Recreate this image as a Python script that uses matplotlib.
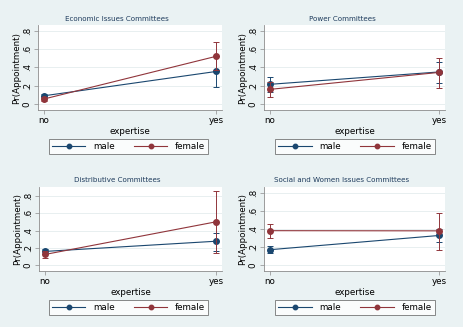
import numpy as np
import matplotlib
matplotlib.use("Agg")
from matplotlib import pyplot as plt

titles = ["Economic Issues Committees", "Power Committees",
          "Distributive Committees", "Social and Women Issues Committees"]
xlabels = ["no", "yes"]

# point estimates [no, yes]
male = [[0.09, 0.355], [0.215, 0.35], [0.16, 0.277], [0.17, 0.327]]
female = [[0.055, 0.52], [0.16, 0.345], [0.125, 0.50], [0.38, 0.378]]
# confidence intervals (low, high) for [no, yes]
male_lo = [[0.07, 0.19], [0.135, 0.23], [0.13, 0.165], [0.135, 0.255]]
male_hi = [[0.11, 0.52], [0.30, 0.46], [0.19, 0.373], [0.21, 0.40]]
female_lo = [[0.035, 0.37], [0.08, 0.18], [0.085, 0.14], [0.30, 0.17]]
female_hi = [[0.075, 0.673], [0.24, 0.505], [0.165, 0.85], [0.45, 0.58]]

navy = "#1a476f"
maroon = "#90353b"
bg = "#eaf2f3"

W, H = 464, 327
fig = plt.figure(figsize=(W / 100, H / 100), dpi=100, facecolor=bg)

# pixel boxes (left, top, right, bottom) for the plot regions
boxes = [(38, 25, 222, 110), (264, 25, 445, 110),
         (39, 187, 222, 271), (264, 187, 445, 271)]
legboxes = [(53, 138, 204, 155), (279, 138, 431, 155),
            (53, 299, 204, 316), (279, 299, 431, 316)]
titlepos = [(117, 19), (342, 19), (117, 180), (342, 180)]
ytops = [0.862, 0.862, 0.90, 0.862]

x = np.array([0, 1])
for i in range(4):
    l, t, r, b = boxes[i]
    ax = fig.add_axes([l / W, 1 - b / H, (r - l) / W, (b - t) / H])
    ax.set_facecolor("white")
    for s in ["top", "right"]:
        ax.spines[s].set_visible(False)
    for s in ["left", "bottom"]:
        ax.spines[s].set_color("#8c8c8c")
        ax.spines[s].set_linewidth(0.6)
    ax.set_yticks([0, 0.2, 0.4, 0.6, 0.8])
    ax.set_yticklabels(["0", ".2", ".4", ".6", ".8"], rotation=90, va="center")
    ax.set_xticks(x)
    ax.set_xticklabels(xlabels)
    ax.grid(axis="y", color="#e4ecee", linewidth=0.6)
    ax.set_axisbelow(True)
    ax.tick_params(labelsize=6.3, length=3, width=0.5, color="#8c8c8c", pad=1.5)
    ax.set_xlim(-0.035, 1.035)
    ax.set_ylim(-0.065, ytops[i])

    for vals, lo, hi, c, lab in [(male[i], male_lo[i], male_hi[i], navy, "male"),
                                 (female[i], female_lo[i], female_hi[i], maroon, "female")]:
        v = np.array(vals)
        err = [v - np.array(lo), np.array(hi) - v]
        ax.errorbar(x, v, yerr=err, fmt="none", ecolor=c, elinewidth=0.7,
                    capsize=2.2, capthick=0.7)
        ax.plot(x, v, color=c, linewidth=0.8, marker="o", markersize=4, label=lab)

    tx, ty = titlepos[i]
    fig.text(tx / W, 1 - ty / H, titles[i], fontsize=5.1, color="#1e3b5c",
             ha="center", va="center")
    ax.set_ylabel("Pr(Appointment)", fontsize=6.3, labelpad=1)
    ax.set_xlabel("expertise", fontsize=6.3, labelpad=1)

    ll, lt, lr, lb = legboxes[i]
    h, labs = ax.get_legend_handles_labels()
    leg = fig.legend(h, labs, loc="center", ncol=2, fontsize=6.3, frameon=True,
                     fancybox=False, handlelength=3.8, columnspacing=2.2,
                     bbox_to_anchor=((ll + lr) / 2 / W, 1 - (lt + lb) / 2 / H),
                     borderpad=0.35, handletextpad=0.9, markerscale=0.8)
    leg.get_frame().set_edgecolor("#555555")
    leg.get_frame().set_linewidth(0.6)

fig.savefig("out.png", dpi=100, facecolor=bg)
